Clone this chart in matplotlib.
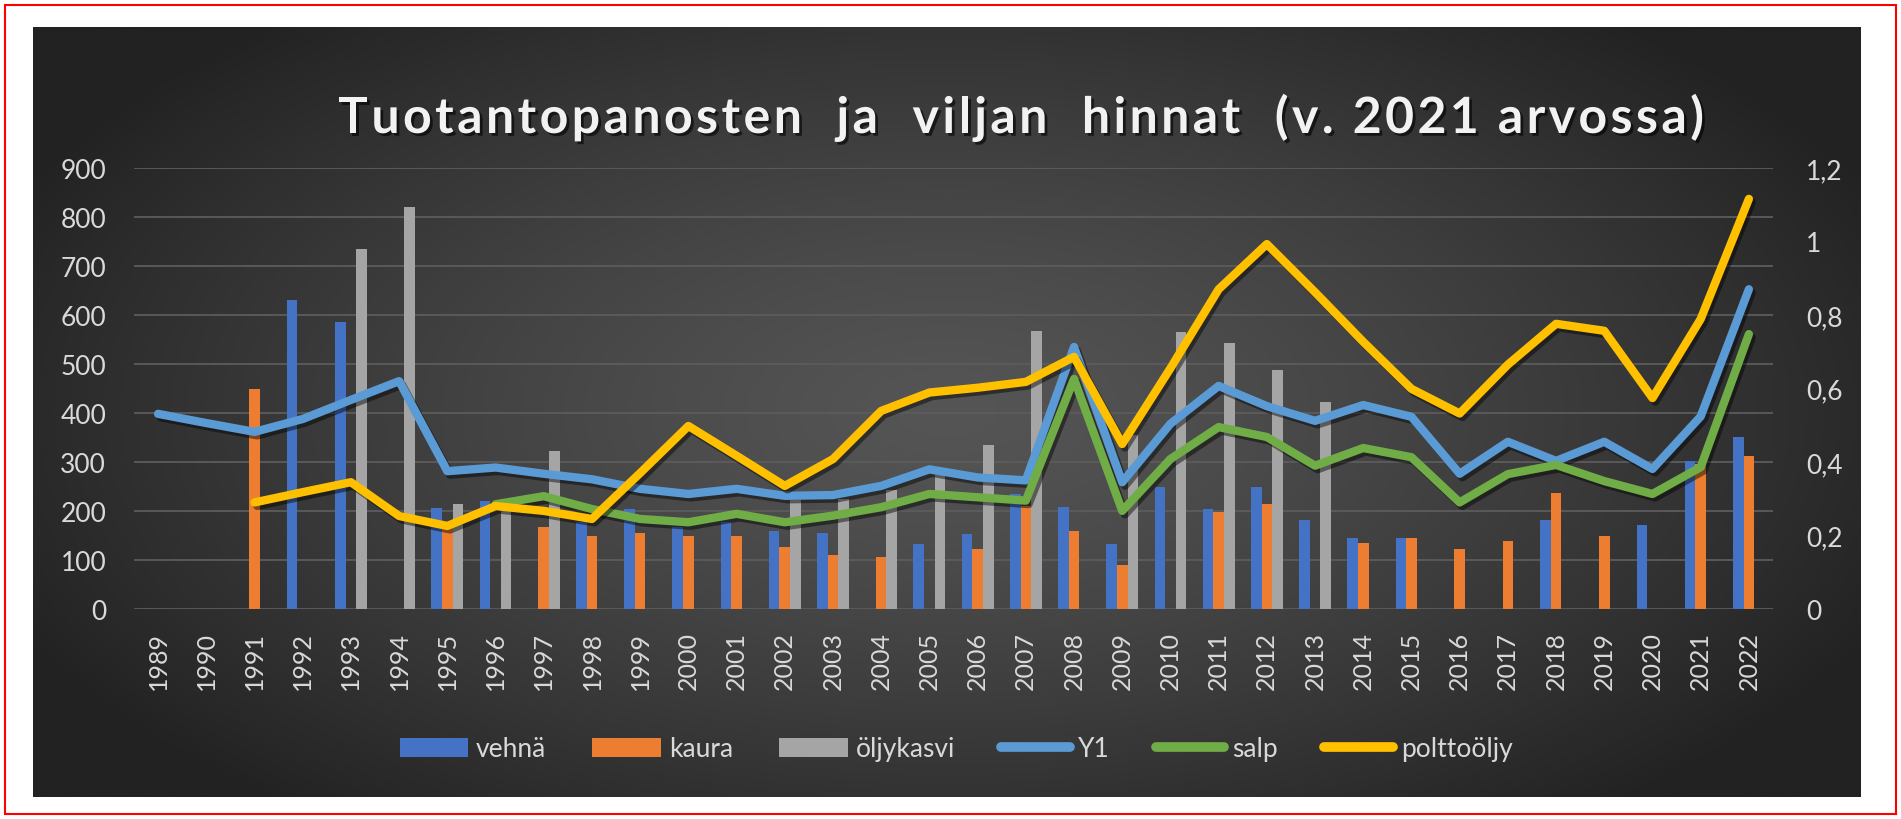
import matplotlib
matplotlib.use('Agg')
import matplotlib.pyplot as plt
import matplotlib.patheffects as pe
import numpy as np
from matplotlib.lines import Line2D
from matplotlib.patches import Patch, Rectangle

plt.rcParams['font.family'] = ['Lato', 'DejaVu Sans']

# ---- data ----
years = list(range(1989, 2023))

vehna = [None, None, None, 630, 585, None, 207, 220, None, 178, 204, 167, 177, 159, 155, None, 133,
         154, 235, 209, 133, 248, 204, 248, 182, 145, 145, None, None, 182, None, 171, 302, 351]
kaura = [None, None, 450, None, None, None, 175, None, 167, 149, 155, 149, 149, 127, 110, 106, None,
         122, 211, 159, 90, None, 198, 214, None, 134, 145, 122, 139, 237, 149, None, 295, 312]
oljykasvi = [None, None, None, None, 735, 820, 214, 208, 322, None, None, None, None, 222, 225, 243,
             275, 335, 568, None, 355, 565, 542, 488, 422, None, None, None, None, None, None, None,
             None, None]

y1 = [0.531, 0.506, 0.482, 0.517, 0.569, 0.62, 0.375, 0.385, 0.368, 0.353, 0.327, 0.313, 0.327,
      0.308, 0.31, 0.335, 0.38, 0.358, 0.35, 0.713, 0.345, 0.504, 0.607, 0.552, 0.512, 0.555,
      0.523, 0.368, 0.455, 0.403, 0.455, 0.381, 0.524, 0.87]
salp = [None] * 7 + [0.285, 0.307, 0.272, 0.245, 0.236, 0.259, 0.236, 0.254, 0.277, 0.313, 0.304,
                     0.295, 0.626, 0.267, 0.408, 0.495, 0.468, 0.39, 0.438, 0.413, 0.29, 0.367,
                     0.392, 0.348, 0.313, 0.386, 0.748]
polttooljy = [None, None, 0.29, 0.318, 0.345, 0.253, 0.226, 0.28, 0.267, 0.245, 0.37, 0.498,
              0.417, 0.335, 0.408, 0.539, 0.589, 0.602, 0.618, 0.686, 0.449, 0.655, 0.87, 0.993,
              0.862, 0.727, 0.599, 0.532, 0.665, 0.776, 0.757, 0.574, 0.789, 1.116]

left_ticks = list(range(0, 1000, 100))
right_ticks = [0, 0.2, 0.4, 0.6, 0.8, 1.0, 1.2]
right_labels = ['0', '0,2', '0,4', '0,6', '0,8', '1', '1,2']

title = 'Tuotantopanosten  ja  viljan  hinnat  (v. 2021 arvossa)'

bar_series = [('vehnä', vehna, '#4472C4'), ('kaura', kaura, '#ED7D31'),
              ('öljykasvi', oljykasvi, '#A5A5A5')]
line_series = [('Y1', y1, '#5B9BD5'), ('salp', salp, '#70AD47'),
               ('polttoöljy', polttooljy, '#FFC000')]

W, H = 1901, 820
fig = plt.figure(figsize=(W / 100, H / 100), dpi=100)
fig.patch.set_facecolor('white')

# red frame
fig.add_artist(Rectangle((5 / W, 5 / H), 1891 / W, 809 / H, transform=fig.transFigure,
                         fill=False, edgecolor='#ff0000', lw=1.5))

# dark panel with radial gradient
px0, px1, py0, py1 = 33, 1860, 28, 798
bg = fig.add_axes([px0 / W, 1 - py1 / H, (px1 - px0) / W, (py1 - py0) / H])
gx, gy = np.meshgrid(np.linspace(-1, 1, 400), np.linspace(-1, 1, 200))
r = np.clip(np.sqrt((gx / 1.05) ** 2 + (gy / 1.25) ** 2), 0, 1.2)
shade = (0x55 - (0x55 - 0x27) * r ** 1.3) / 255.0
shade = np.clip(shade, 0x22 / 255, 1)
bg.imshow(np.dstack([shade] * 3), aspect='auto', extent=(0, 1, 0, 1), interpolation='bilinear')
bg.set_axis_off()

# main axes
ax_l, ax_r, ax_t, ax_b = 134, 1773, 169, 610
ax = fig.add_axes([ax_l / W, 1 - ax_b / H, (ax_r - ax_l) / W, (ax_b - ax_t) / H])
ax.set_facecolor('none')
x = np.arange(len(years))
width = 0.22
for k, (name, vals, col) in enumerate(bar_series):
    v = np.array([np.nan if a is None else a for a in vals], dtype=float)
    m = np.isfinite(v)
    ax.bar(x[m] + (k - 1) * width, v[m], width=width, color=col, zorder=2, linewidth=0)

ax.set_xlim(-0.5, len(years) - 0.5)
ax.set_ylim(0, 900)
ax.set_yticks(left_ticks)
ax.set_xticks(x)
ax.set_xticklabels([str(y) for y in years], rotation=90, va='top', ha='center')
ax.grid(axis='y', color='#5c5c5c', lw=1.3, zorder=0)
ax.set_axisbelow(True)
for s in ax.spines.values():
    s.set_visible(False)
ax.tick_params(axis='y', length=0, pad=20, labelsize=19, labelcolor='#d9d9d9')
ax.tick_params(axis='x', length=0, pad=16, labelsize=18, labelcolor='#d9d9d9')

ax2 = ax.twinx()
ax2.set_ylim(0, 1.2)
ax2.set_yticks(right_ticks)
ax2.set_yticklabels(right_labels)
ax2.tick_params(axis='y', length=0, pad=24, labelsize=19, labelcolor='#d9d9d9')
for s in ax2.spines.values():
    s.set_visible(False)
shadow = [pe.SimpleLineShadow(offset=(2, -2.5), shadow_color='black', alpha=0.45), pe.Normal()]
for name, vals, col in line_series:
    v = np.array([np.nan if a is None else a for a in vals], dtype=float)
    ax2.plot(x, v, color=col, lw=6, solid_joinstyle='round', solid_capstyle='round',
             path_effects=shadow, zorder=3)

# title, spread letter by letter between the measured ends
renderer = fig.canvas.get_renderer()
tkw = dict(fontsize=36, fontweight='bold', color='#f2f2f2', va='baseline', ha='left',
           path_effects=[pe.withSimplePatchShadow(offset=(2, -2), shadow_rgbFace='black', alpha=0.6)])


def text_w(s):
    t = fig.text(0, 0, s + 'x', **tkw)
    w = t.get_window_extent(renderer).width
    t.remove()
    return w


xw = text_w('')
offsets = [text_w(title[:i]) - xw for i in range(len(title) + 1)]
t_x0, t_x1, t_base = 338, 1704, 134
extra = (t_x1 - t_x0 - offsets[-1]) / (len(title) - 1)
for i, ch in enumerate(title):
    if ch != ' ':
        fig.text((t_x0 + offsets[i] + extra * i) / W, 1 - t_base / H, ch, **tkw)

# legend
handles = [Patch(facecolor=c, edgecolor='none') for _, _, c in bar_series]
handles += [Line2D([0], [0], color=c, lw=7, solid_capstyle='round') for _, _, c in line_series]
labels = [n for n, _, _ in bar_series] + [n for n, _, _ in line_series]
fig.legend(handles, labels, loc='center', bbox_to_anchor=(956 / W, 1 - 750 / H), ncol=6,
           frameon=False, fontsize=19, labelcolor='#d9d9d9', handlelength=2.6,
           handleheight=0.75, handletextpad=0.3, columnspacing=1.75)

fig.savefig('out.png', dpi=100, facecolor='white')
